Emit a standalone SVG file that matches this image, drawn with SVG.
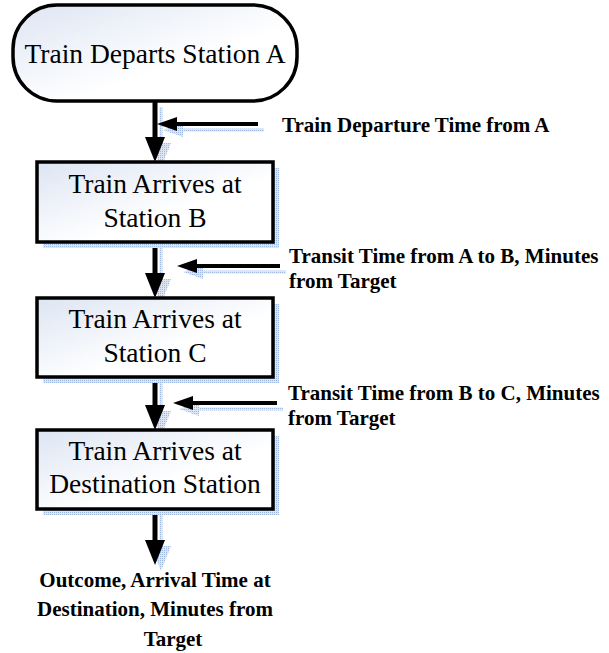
<svg xmlns="http://www.w3.org/2000/svg" width="609" height="653" viewBox="0 0 609 653">
<style>
.node{stroke:#000;stroke-width:3.5;fill:url(#g)}
.shadow{fill:url(#dots);stroke:none}
.ntext{font-family:"Liberation Serif","Times New Roman",serif;font-size:27.5px;fill:#000;text-anchor:middle}
.label{font-family:"Liberation Serif","Times New Roman",serif;font-size:21px;font-weight:bold;fill:#000}
.conn{stroke:#000;stroke-width:5;fill:none}
.hconn{stroke:#000;stroke-width:4;fill:none}
.cshadow{stroke:url(#dots);stroke-width:3;fill:none}
</style>
<defs>
<linearGradient id="g" x1="0" y1="0" x2="1" y2="1">
<stop offset="0" stop-color="#dde5f3"/>
<stop offset="0.6" stop-color="#ffffff"/>
<stop offset="1" stop-color="#ffffff"/>
</linearGradient>
<pattern id="dots" width="2" height="2" patternUnits="userSpaceOnUse">
<rect width="2" height="2" fill="#dbe5f4"/>
<rect width="1" height="1" fill="#9fb9e0"/>
</pattern>
<marker id="vhead" markerUnits="userSpaceOnUse" viewBox="0 0 25 20" markerWidth="25" markerHeight="20" refX="0" refY="10" orient="auto">
<path d="M0,0 L25,10 L0,20 z" fill="#000"/>
</marker>
<marker id="hhead" markerUnits="userSpaceOnUse" viewBox="0 0 20 14" markerWidth="20" markerHeight="14" refX="0" refY="7" orient="auto">
<path d="M0,0 L20,7 L0,14 z" fill="#000"/>
</marker>
<marker id="vheadS" markerUnits="userSpaceOnUse" viewBox="0 0 25 20" markerWidth="25" markerHeight="20" refX="0" refY="10" orient="auto">
<path d="M0,0 L25,10 L0,20 z" fill="url(#dots)"/>
</marker>
<marker id="hheadS" markerUnits="userSpaceOnUse" viewBox="0 0 20 14" markerWidth="20" markerHeight="14" refX="0" refY="7" orient="auto">
<path d="M0,0 L20,7 L0,14 z" fill="url(#dots)"/>
</marker>
</defs>
<rect width="609" height="653" fill="#fff"/>

<g id="connectors">
<g id="connector-shadows">
<line class="cshadow" x1="161" y1="107" x2="161" y2="143" marker-end="url(#vheadS)"/>
<line class="cshadow" x1="264" y1="130" x2="183" y2="130" marker-end="url(#hheadS)"/>
<line class="cshadow" x1="161" y1="248" x2="161" y2="279" marker-end="url(#vheadS)"/>
<line class="cshadow" x1="286" y1="272" x2="203" y2="272" marker-end="url(#hheadS)"/>
<line class="cshadow" x1="161" y1="383" x2="161" y2="411" marker-end="url(#vheadS)"/>
<line class="cshadow" x1="283" y1="409" x2="199" y2="409" marker-end="url(#hheadS)"/>
<line class="cshadow" x1="161" y1="515" x2="161" y2="546" marker-end="url(#vheadS)"/>
</g>
<line class="conn" x1="155" y1="101" x2="155" y2="137" marker-end="url(#vhead)"/>
<line class="hconn" x1="258" y1="124" x2="177" y2="124" marker-end="url(#hhead)"/>
<line class="conn" x1="155" y1="242" x2="155" y2="273" marker-end="url(#vhead)"/>
<line class="hconn" x1="280" y1="266" x2="197" y2="266" marker-end="url(#hhead)"/>
<line class="conn" x1="155" y1="377" x2="155" y2="405" marker-end="url(#vhead)"/>
<line class="hconn" x1="277" y1="403" x2="193" y2="403" marker-end="url(#hhead)"/>
<line class="conn" x1="155" y1="509" x2="155" y2="540" marker-end="url(#vhead)"/>
</g>

<g id="start">
<rect class="node" x="13" y="5" width="284" height="96" rx="44" ry="44"/>
<text class="ntext" x="155" y="63" font-size="28">Train Departs Station A</text>
</g>

<g id="stationB">
<rect class="shadow" x="43" y="168" width="236" height="80"/>
<rect class="node" x="37" y="162" width="236" height="80"/>
<text class="ntext" x="155" y="193">Train Arrives at</text>
<text class="ntext" x="155" y="227">Station B</text>
</g>

<g id="stationC">
<rect class="shadow" x="43" y="304" width="236" height="79"/>
<rect class="node" x="37" y="298" width="236" height="79"/>
<text class="ntext" x="155" y="328">Train Arrives at</text>
<text class="ntext" x="155" y="362">Station C</text>
</g>

<g id="destination">
<rect class="shadow" x="43" y="436" width="236" height="79"/>
<rect class="node" x="37" y="430" width="236" height="79"/>
<text class="ntext" x="155" y="460">Train Arrives at</text>
<text class="ntext" x="155" y="493">Destination Station</text>
</g>

<g id="label-departure">
<text class="label" x="282" y="132">Train Departure Time from A</text>
</g>
<g id="label-transitAB">
<text class="label" x="289" y="263">Transit Time from A to B, Minutes</text>
<text class="label" x="289" y="288">from Target</text>
</g>
<g id="label-transitBC">
<text class="label" x="288" y="400">Transit Time from B to C, Minutes</text>
<text class="label" x="288" y="425">from Target</text>
</g>
<g id="outcome">
<text class="label" x="155" y="587" text-anchor="middle">Outcome, Arrival Time at</text>
<text class="label" x="155" y="616" text-anchor="middle">Destination, Minutes from</text>
<text class="label" x="173" y="646" text-anchor="middle">Target</text>
</g>
</svg>
